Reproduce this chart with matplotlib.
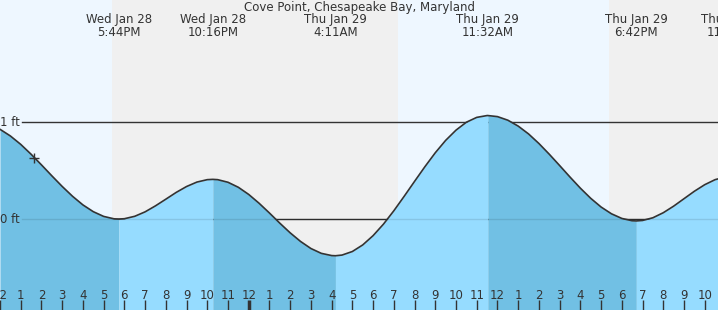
import matplotlib
matplotlib.use("Agg")
import matplotlib.pyplot as plt
import matplotlib.transforms as mtransforms

# ---- data (hours since Wed Jan 28 00:00, height in ft) ----
times = [12.0, 12.5, 13.0, 13.5, 14.0, 14.5, 15.0, 15.5, 16.0, 16.5, 17.0, 17.5, 17.733,
         18.0, 18.5, 19.0, 19.5, 20.0, 20.5, 21.0, 21.5, 22.0, 22.267,
         22.5, 23.0, 23.5, 24.0, 24.5, 25.0, 25.5, 26.0, 26.5, 27.0, 27.5, 28.0, 28.183,
         28.5, 29.0, 29.5, 30.0, 30.5, 31.0, 31.5, 32.0, 32.5, 33.0, 33.5, 34.0, 34.5, 35.0, 35.5, 35.533,
         36.0, 36.5, 37.0, 37.5, 38.0, 38.5, 39.0, 39.5, 40.0, 40.5, 41.0, 41.5, 42.0, 42.5, 42.7,
         43.0, 43.5, 44.0, 44.5, 45.0, 45.5, 46.0, 46.5, 47.0]
heights = [0.928, 0.859, 0.772, 0.670, 0.560, 0.447, 0.337, 0.235, 0.146, 0.076, 0.027, 0.002, 0.000,
           0.003, 0.028, 0.074, 0.136, 0.205, 0.275, 0.336, 0.382, 0.407, 0.410,
           0.407, 0.380, 0.328, 0.254, 0.163, 0.062, -0.043, -0.143, -0.232, -0.305, -0.355, -0.378, -0.380,
           -0.373, -0.336, -0.268, -0.172, -0.053, 0.085, 0.235, 0.389, 0.541, 0.685, 0.813, 0.919, 1.001, 1.051, 1.070, 1.070,
           1.059, 1.022, 0.961, 0.880, 0.781, 0.670, 0.553, 0.434, 0.319, 0.214, 0.124, 0.054, 0.006, -0.018, -0.020,
           -0.015, 0.013, 0.065, 0.133, 0.210, 0.287, 0.355, 0.407, 0.435]

ext_times = [17.733, 22.267, 28.183, 35.533, 42.7, 47.317]
ext_labels = ["Wed Jan 28\n5:44PM", "Wed Jan 28\n10:16PM", "Thu Jan 29\n4:11AM",
              "Thu Jan 29\n11:32AM", "Thu Jan 29\n6:42PM", "Thu Jan 29\n11:19PM"]

night_spans = [(17.40, 31.20), (41.38, 48.0)]
now_time = 13.66
now_height = 0.636

title = "Cove Point, Chesapeake Bay, Maryland"
hour_ticks = list(range(12, 47))
hour_labels = [str((h - 1) % 12 + 1) for h in hour_ticks]
y_ticks = [1, 0]
y_tick_labels = ["1 ft", "0 ft"]

# ---- style ----
DAY_BG = "#EEF7FF"
NIGHT_BG = "#F0F0F0"
FILL_FALL = "#71C0E4"
FILL_RISE = "#96DCFF"
INK = "#333333"
FS = 8.5

fig = plt.figure(figsize=(7.18, 3.10), dpi=100)
ax = fig.add_axes([0, 0, 1, 1])
ax.set_xlim(12.22, 46.64)
ax.set_ylim(-0.941, 2.265)
ax.set_facecolor(DAY_BG)
ax.set_axisbelow(False)
for s in ax.spines.values():
    s.set_visible(False)

for a, b in night_spans:
    ax.axvspan(a, b, color=NIGHT_BG, zorder=0, lw=0)

# reference lines (behind fill)
x0 = 22 / 718
for yv in y_ticks:
    ax.axhline(yv, xmin=x0, xmax=1, color=INK, lw=1.0, zorder=1)

# fill under curve, colour by rising / falling segment
bottom = -0.941
bounds = [0] + [times.index(t) for t in ext_times if t in times] + [len(times) - 1]
for k in range(len(bounds) - 1):
    i0, i1 = bounds[k], bounds[k + 1]
    seg_t = times[i0:i1 + 1]
    seg_h = heights[i0:i1 + 1]
    falling = seg_h[-1] < seg_h[0]
    ax.fill_between(seg_t, seg_h, bottom, color=FILL_FALL if falling else FILL_RISE,
                    lw=0, zorder=2)

# faint 0 line over fill
ax.axhline(0, xmin=x0, xmax=1, color="#000000", alpha=0.10, lw=1.0, zorder=3)

ax.plot(times, heights, color=INK, lw=1.2, zorder=4, solid_joinstyle="round",
        solid_capstyle="round")
ax.plot([now_time], [now_height], marker="+", ms=6.5, mew=1.0, color=INK, zorder=5)

# y labels
ytr = mtransforms.blended_transform_factory(ax.transAxes, ax.transData)
for yv, lab in zip(y_ticks, y_tick_labels):
    ax.text(20 / 718, yv, lab, transform=ytr, ha="right", va="center",
            fontsize=FS, color=INK)

# hi/lo labels
xtr = mtransforms.blended_transform_factory(ax.transData, ax.transAxes)
for t, lab in zip(ext_times, ext_labels):
    ax.text(t, 1 - 25.5 / 310, lab, transform=xtr, ha="center", va="center",
            fontsize=FS, color=INK, linespacing=1.0)

ax.text(0.5, 1 - 7 / 310, title, transform=ax.transAxes, ha="center", va="center",
        fontsize=FS, color=INK)

# hour ticks
ax.set_xticks(hour_ticks)
ax.set_xticklabels(hour_labels)
ax.tick_params(axis="x", direction="in", length=7, width=1, color=INK,
               labelsize=FS, labelcolor=INK, pad=-15)
ax.set_yticks([])
for tk, h in zip(ax.xaxis.get_major_ticks(), hour_ticks):
    tk.set_zorder(6)
    if h == 24:
        tk.tick1line.set_markeredgewidth(2.5)

fig.savefig("out.png", dpi=100)
